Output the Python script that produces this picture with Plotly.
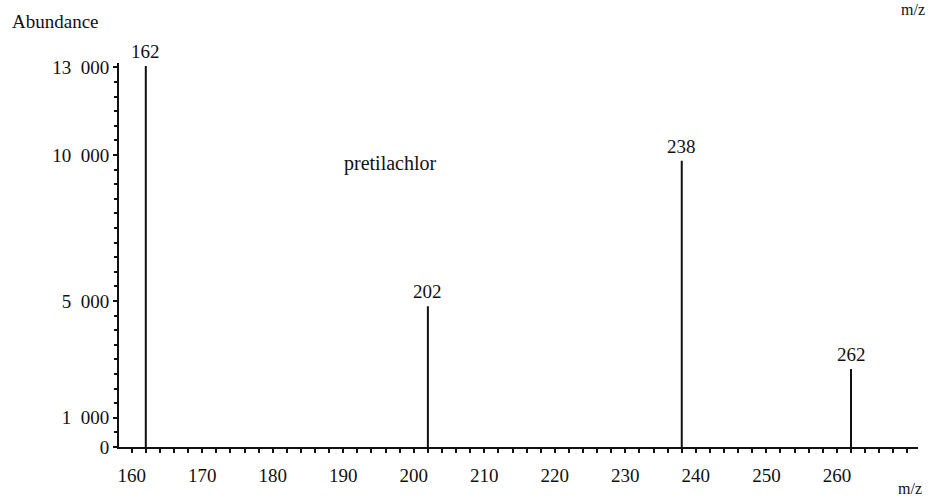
import plotly.graph_objects as go

# Mass spectrum of pretilachlor: m/z of the main fragment ions and their abundance
mz = [162, 202, 238, 262]
abundance = [13050, 4820, 9800, 2670]

x_tick_vals = [160, 170, 180, 190, 200, 210, 220, 230, 240, 250, 260]
y_tick_vals = [0, 1000, 5000, 10000, 13000]
y_tick_text = ["0", "1\u2002000", "5\u2002000", "10\u2002000", "13\u2002000"]

FONT = "Liberation Serif"
INK = "#111111"

# Stick spectrum: one vertical segment per ion, from the baseline up to its abundance
xs, ys = [], []
for m, a in zip(mz, abundance):
    xs += [m, m, None]
    ys += [0, a, None]

fig = go.Figure(
    go.Scatter(x=xs, y=ys, mode="lines", line=dict(color=INK, width=2),
               hoverinfo="skip", showlegend=False)
)

# Ion labels above each stick
for m, a in zip(mz, abundance):
    fig.add_annotation(x=m, y=a, text=str(m), showarrow=False,
                       xanchor="center", yanchor="bottom", yshift=2,
                       font=dict(family=FONT, size=19, color=INK))

fig.add_annotation(xref="paper", yref="paper", x=-0.1364, y=1.1068,
                   text="Abundance", showarrow=False, xanchor="left", yanchor="middle",
                   font=dict(family=FONT, size=19, color=INK))
fig.add_annotation(xref="paper", yref="paper", x=0.994, y=1.14,
                   text="m/z", showarrow=False, xanchor="center", yanchor="middle",
                   font=dict(family=FONT, size=16, color=INK))
fig.add_annotation(xref="paper", yref="paper", x=0.99, y=-0.108,
                   text="m/z", showarrow=False, xanchor="center", yanchor="middle",
                   font=dict(family=FONT, size=16, color=INK))
fig.add_annotation(xref="paper", yref="paper", x=0.3404, y=0.737,
                   text="pretilachlor", showarrow=False, xanchor="center", yanchor="middle",
                   font=dict(family=FONT, size=20, color=INK))

fig.update_xaxes(
    range=[158.2, 271.5], tickvals=x_tick_vals,
    ticks="outside", ticklen=4, tickwidth=1.5, tickcolor=INK,
    minor=dict(dtick=2, tick0=0, ticks="outside", ticklen=4, tickwidth=1.5, tickcolor=INK),
    showline=True, linewidth=2, linecolor=INK, showgrid=False, zeroline=False,
    ticklabelstandoff=6,
    tickfont=dict(family=FONT, size=19, color=INK),
)
fig.update_yaxes(
    range=[0, 13150], tickvals=y_tick_vals, ticktext=y_tick_text,
    ticks="outside", ticklen=4, tickwidth=1.5, tickcolor=INK,
    minor=dict(dtick=500, tick0=0, ticks="outside", ticklen=3, tickwidth=1.5, tickcolor=INK),
    showline=True, linewidth=2, linecolor=INK, showgrid=False, zeroline=False,
    ticklabelstandoff=0,
    tickfont=dict(family=FONT, size=19, color=INK),
)

fig.update_layout(
    width=928, height=499,
    margin=dict(l=119, r=10, t=63, b=52),
    paper_bgcolor="white", plot_bgcolor="white",
)

fig.write_html("out.html")
